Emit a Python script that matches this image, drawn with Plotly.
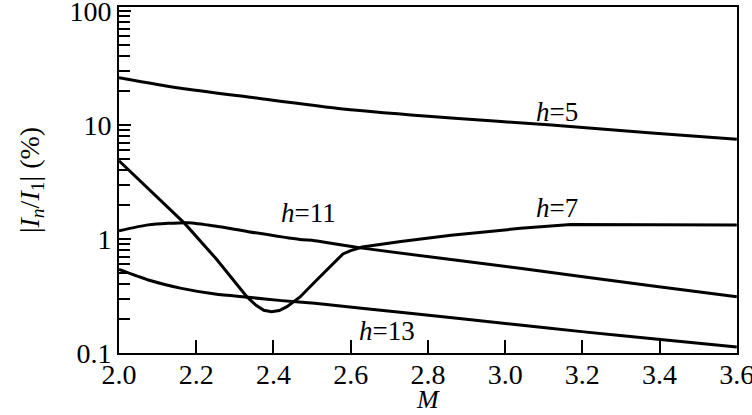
import plotly.graph_objects as go

# h = 5
m_h5 = [2.0, 2.16, 2.34, 2.58, 2.86, 3.12, 3.38, 3.6]
v_h5 = [26.0, 21.0, 17.5, 13.8, 11.5, 10.0, 8.5, 7.5]

# h = 7
m_h7 = [2.0, 2.17, 2.25, 2.331, 2.355, 2.375, 2.395, 2.415, 2.435, 2.455, 2.469,
        2.507, 2.533, 2.58, 2.6, 2.63, 2.73, 2.86, 3.04, 3.17, 3.6]
v_h7 = [4.86, 1.37, 0.68, 0.312, 0.262, 0.237, 0.23, 0.236, 0.255, 0.285, 0.31,
        0.42, 0.517, 0.74, 0.79, 0.85, 0.95, 1.08, 1.24, 1.34, 1.33]

# h = 11
m_h11 = [2.0, 2.076, 2.179, 2.249, 2.335, 2.469, 2.507, 2.62, 3.038, 3.383, 3.6]
v_h11 = [1.18, 1.33, 1.39, 1.30, 1.16, 0.99, 0.966, 0.84, 0.553, 0.387, 0.312]

# h = 13
m_h13 = [2.0, 2.076, 2.162, 2.249, 2.335, 2.421, 2.507, 2.753, 3.038, 3.198, 3.396, 3.6]
v_h13 = [0.54, 0.437, 0.369, 0.329, 0.308, 0.288, 0.273, 0.223, 0.176, 0.154, 0.132, 0.113]

x_ticks = [2.0, 2.2, 2.4, 2.6, 2.8, 3.0, 3.2, 3.4, 3.6]
x_ticktext = ["2.0", "2.2", "2.4", "2.6", "2.8", "3.0", "3.2", "3.4", "3.6"]
y_ticks = [0.1, 1, 10, 100]
y_ticktext = ["0.1", "1", "10", "100"]

labels = ["<i>h</i>=5", "<i>h</i>=7", "<i>h</i>=11", "<i>h</i>=13"]
label_pos = [(0.708, 0.697), (0.709, 0.419), (0.307, 0.405), (0.433, 0.064)]

FONT = "Liberation Serif"
TICK = dict(family=FONT, size=28, color="black")
ANN = dict(family=FONT, size=27, color="black")

fig = go.Figure()
for mx, vy, shape in [(m_h5, v_h5, "spline"), (m_h7, v_h7, "linear"),
                      (m_h11, v_h11, "spline"), (m_h13, v_h13, "spline")]:
    fig.add_trace(go.Scatter(x=mx, y=vy, mode="lines",
                             line=dict(color="black", width=3, shape=shape, smoothing=0.6),
                             showlegend=False, hoverinfo="skip"))

for txt, (px, py) in zip(labels, label_pos):
    fig.add_annotation(text=txt, x=px, y=py, xref="paper", yref="paper",
                       xanchor="center", yanchor="middle",
                       showarrow=False, font=ANN)

# x-axis title placed as a text annotation below the tick labels
fig.add_annotation(text="<i>M</i>", x=0.5, y=-0.133, xref="paper", yref="paper",
                   xanchor="center", yanchor="middle", showarrow=False,
                   font=dict(family=FONT, size=26, color="black"))

fig.update_layout(
    width=752, height=415,
    margin=dict(l=119, r=15, t=7, b=62, autoexpand=False),
    paper_bgcolor="white", plot_bgcolor="white",
    font=TICK,
    xaxis=dict(
        range=[2.0, 3.6005], tickvals=x_ticks, ticktext=x_ticktext,
        tickfont=TICK, automargin=False, ticklabeloverflow="allow",
        ticklabelstandoff=-5,
        ticks="inside", ticklen=13, tickwidth=1.5, tickcolor="black",
        showline=True, linecolor="black", linewidth=2, mirror=True,
        showgrid=False, zeroline=False,
    ),
    yaxis=dict(
        type="log", range=[-1, 2.035], tickvals=y_ticks, ticktext=y_ticktext,
        tickfont=TICK, automargin=False, ticklabeloverflow="allow",
        ticks="inside", ticklen=12, tickwidth=1.5, tickcolor="black",
        minor=dict(ticks="inside", ticklen=11, tickwidth=1.5, tickcolor="black",
                   dtick="D1", showgrid=False),
        showline=True, linecolor="black", linewidth=2, mirror=True,
        showgrid=False, zeroline=False,
        title=dict(text="|<i>I</i><sub><i>n</i></sub>/<i>I</i><sub>1</sub>| (%)",
                   font=dict(family=FONT, size=28, color="black"), standoff=22),
    ),
)

fig.write_html("out.html", config={"displayModeBar": False},
               post_script="document.body.style.margin='0px';")
